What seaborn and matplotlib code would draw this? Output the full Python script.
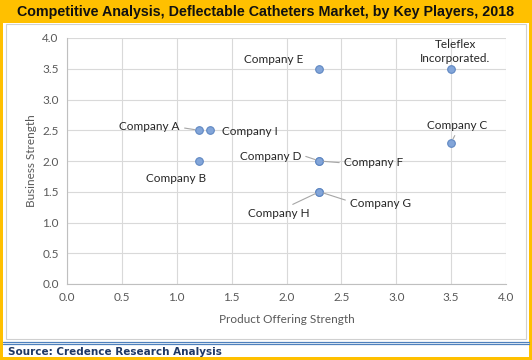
import matplotlib
matplotlib.use("Agg")
import matplotlib.pyplot as plt
import seaborn as sns
import pandas as pd
from matplotlib.patches import Rectangle
from matplotlib.lines import Line2D

companies = ["Company A", "Company I", "Company B", "Company E", "Company D",
             "Company F", "Company H", "Company G", "Teleflex\nIncorporated.", "Company C"]
product_strength = [1.2, 1.3, 1.2, 2.3, 2.3, 2.3, 2.3, 2.3, 3.5, 3.5]
business_strength = [2.5, 2.5, 2.0, 3.5, 2.0, 2.0, 1.5, 1.5, 3.5, 2.3]
ticks = [0.0, 0.5, 1.0, 1.5, 2.0, 2.5, 3.0, 3.5, 4.0]

df = pd.DataFrame({"company": companies, "x": product_strength, "y": business_strength})

sns.set_theme(style="white")
plt.rcParams["font.family"] = ["Lato", "DejaVu Sans"]

W, H = 532, 360
fig = plt.figure(figsize=(W / 100, H / 100), dpi=100)
fig.patch.set_facecolor("white")

def px_rect(x0, y0, x1, y1, **kw):
    # pixel coords from top-left
    return Rectangle((x0 / W, 1 - y1 / H), (x1 - x0) / W, (y1 - y0) / H,
                     transform=fig.transFigure, **kw)

gold = "#FFC000"
fig.patches.append(px_rect(0, 0, W, H, facecolor=gold, edgecolor="none", zorder=0))
fig.patches.append(px_rect(3, 23, W - 3, H - 3, facecolor="white", edgecolor="none", zorder=1))
fig.patches.append(px_rect(6, 24, W - 6, 339, facecolor="white", edgecolor="#D0D0D0", linewidth=0.8, zorder=2))
for yy in (341.5, 344):
    fig.lines.append(Line2D([3 / W, (W - 3) / W], [1 - yy / H, 1 - yy / H],
                            transform=fig.transFigure, color="#4F81BD", linewidth=0.9, zorder=3))

ax = fig.add_axes([67 / W, 1 - 284 / H, (506 - 67) / W, (284 - 38) / H])
ax.set_facecolor("none")
ax.set_zorder(5)

sns.scatterplot(data=df, x="x", y="y", ax=ax, s=30, color="#82A5D9",
                edgecolor="#5F87C2", linewidth=0.8, zorder=5, clip_on=False, legend=False)

ax.set_xlim(0, 4)
ax.set_ylim(0, 4)
ax.set_xticks(ticks)
ax.set_yticks(ticks)
ax.set_xticklabels([f"{t:.1f}" for t in ticks])
ax.set_yticklabels([f"{t:.1f}" for t in ticks])
ax.grid(True, color="#D9D9D9", linewidth=0.8)
ax.set_axisbelow(True)
for s in ["top", "right"]:
    ax.spines[s].set_visible(False)
for s in ["left", "bottom"]:
    ax.spines[s].set_color("#BFBFBF")
    ax.spines[s].set_linewidth(0.8)
ax.tick_params(axis="both", length=0, labelsize=8.5, labelcolor="#595959", pad=6)
ax.set_xlabel("Product Offering Strength", fontsize=8.5, color="#595959", labelpad=8)
ax.set_ylabel("Business Strength", fontsize=8.5, color="#595959", labelpad=4)

# label offsets in pixels (dx, dy) and leader line relpos (None = no leader)
offsets = {
    "Company A": ((-49, 4), (1.0, 0.4)),
    "Company I": ((40, -1), None),
    "Company B": ((-23, -18), None),
    "Company E": ((-46, 9), None),
    "Company D": ((-49, 5), (1.0, 0.6)),
    "Company F": ((54, -2), (0.0, 0.5)),
    "Company H": ((-41, -22), (0.6, 1.0)),
    "Company G": ((61, -12), (0.0, 0.7)),
    "Teleflex\nIncorporated.": ((4, 17), None),
    "Company C": ((6, 17), (0.5, 0.0)),
}
for name, xv, yv in zip(companies, product_strength, business_strength):
    (dx, dy), rel = offsets[name]
    kw = {}
    if rel is not None:
        kw["arrowprops"] = dict(arrowstyle="-", color="#A6A6A6", linewidth=0.8,
                                relpos=rel, shrinkA=1, shrinkB=3)
    ax.annotate(name, xy=(xv, yv), xytext=(dx, dy), textcoords="offset pixels",
                ha="center", va="center", fontsize=8.5, color="#262626",
                linespacing=1.3, zorder=6, **kw)

fig.text(0.5, 1 - 12 / H, "Competitive Analysis, Deflectable Catheters Market, by Key Players, 2018",
         ha="center", va="center", fontsize=10.3, fontweight="bold", color="#111111",
         family="Liberation Sans")
fig.text(8 / W, 1 - 352 / H, "Source: Credence Research Analysis", ha="left", va="center",
         fontsize=7.5, fontweight="bold", color="#1F3864", family="DejaVu Sans")

fig.savefig("out.png", dpi=100)
